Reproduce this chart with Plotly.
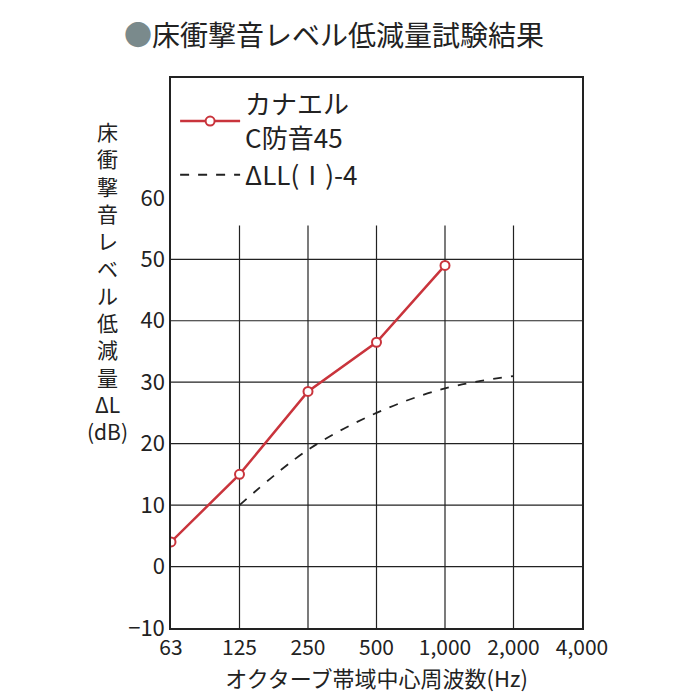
import plotly.graph_objects as go

freq_labels = ["63", "125", "250", "500", "1,000", "2,000", "4,000"]
kanael_x = [0, 1, 2, 3, 4]
kanael_y = [4, 15, 28.5, 36.5, 49]
ref_x = [1, 2, 3, 4, 5]
ref_y = [10, 19, 25, 29, 31]
y_ticks = [-10, 0, 10, 20, 30, 40, 50, 60]

red = "#c9343c"
font = "Noto Sans CJK JP"

fig = go.Figure()
fig.add_trace(go.Scatter(
    x=kanael_x, y=kanael_y, mode="lines+markers", name="カナエル<br>C防音45",
    line=dict(color=red, width=2.5),
    marker=dict(symbol="circle", size=9, color="white", line=dict(color=red, width=2)),
))
fig.add_trace(go.Scatter(
    x=ref_x, y=ref_y, mode="lines", name="ΔLL(Ⅰ)-4",
    line=dict(color="#222", width=1.8, dash="dash", shape="spline"),
))

# grid: vertical lines stop below the legend area
shapes = []
for i in range(1, len(freq_labels) - 1):
    shapes.append(dict(type="line", xref="x", yref="y", x0=i, x1=i, y0=-10, y1=55.5,
                       line=dict(color="#222", width=1.2), layer="below"))
for v in y_ticks[1:-1]:
    shapes.append(dict(type="line", xref="x", yref="y", x0=0, x1=6, y0=v, y1=v,
                       line=dict(color="#222", width=1.2), layer="below"))

fig.update_layout(
    width=700, height=700,
    margin=dict(l=163, r=126, t=70, b=80),
    paper_bgcolor="white", plot_bgcolor="white",
    font=dict(family=font, size=22, color="#222"),
    shapes=shapes,
    showlegend=True,
    legend=dict(x=0.01, y=0.995, xanchor="left", yanchor="top", bgcolor="rgba(0,0,0,0)",
                font=dict(size=26), tracegroupgap=4, itemwidth=60),
    xaxis=dict(range=[0, 6], tickvals=list(range(7)), ticktext=freq_labels,
               showgrid=False, zeroline=False, showline=True, linecolor="#222", linewidth=1.5,
               mirror=True, ticks="", tickfont=dict(size=21),
               title=dict(text="オクターブ帯域中心周波数(Hz)", font=dict(size=22), standoff=8)),
    yaxis=dict(range=[-10, 79.5], tickvals=y_ticks, showgrid=False, zeroline=False,
               showline=True, linecolor="#222", linewidth=1.5, mirror=True, ticks="",
               tickfont=dict(size=22)),
    annotations=[
        dict(text="<span style='color:#7a8a8c'>●</span>床衝撃音レベル低減量試験結果",
             xref="paper", yref="paper", x=-0.12, y=1.08, xanchor="left", yanchor="middle",
             showarrow=False, font=dict(size=28, color="#222")),
        dict(text="<br>".join("床衝撃音レベル低減量") + "<br>ΔL<br>(dB)",
             xref="paper", yref="paper", x=-0.1, y=0.935, xanchor="right", yanchor="top",
             showarrow=False, font=dict(size=21), align="center"),
    ],
)

fig.write_html("out.html")
